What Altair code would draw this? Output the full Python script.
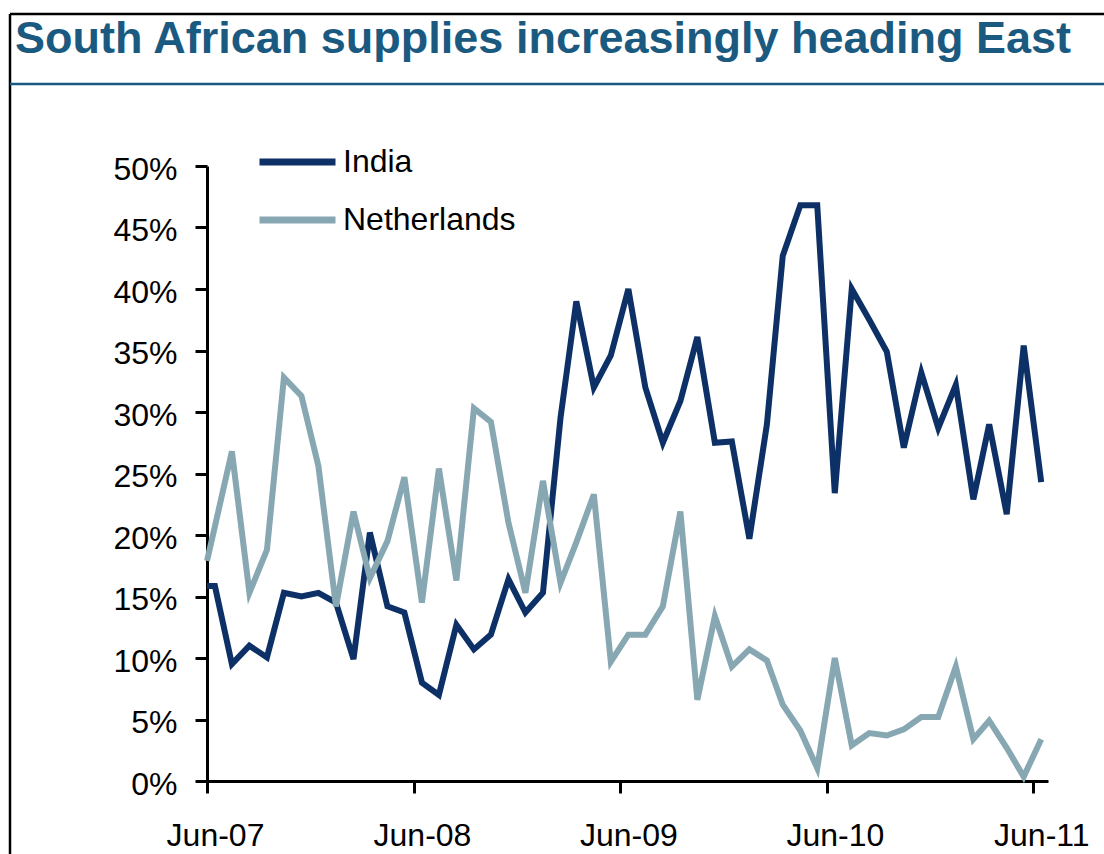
import altair as alt
import pandas as pd

# ---- data ----
series_names = ["India", "Netherlands"]
start_date = "2007-06-01T00:00:00"
start_india = 15.85
start_netherlands = 17.9

# monthly values (mid-month), Jun-07 .. Jun-11, in percent
india = [15.85, 9.5, 11.0, 10.05, 15.3, 15.0, 15.3, 14.5, 9.9, 20.2, 14.2, 13.7,
         8.0, 7.0, 12.7, 10.7, 11.9, 16.4, 13.7, 15.3, 29.5, 39.0, 32.0, 34.6,
         40.0, 32.0, 27.5, 30.9, 36.1, 27.5, 27.6, 19.7, 29.0, 42.7, 46.8, 46.8,
         23.4, 40.0, 37.5, 34.9, 27.1, 33.2, 28.7, 32.2, 22.9, 29.0, 21.7, 35.4,
         24.3]
netherlands = [20.7, 26.8, 15.3, 18.8, 32.8, 31.3, 25.6, 14.2, 21.9, 16.5, 19.5, 24.7,
               14.5, 25.4, 16.3, 30.3, 29.2, 21.0, 15.3, 24.4, 16.1, 19.4, 23.3, 9.7,
               11.9, 11.9, 14.2, 21.9, 6.6, 13.4, 9.3, 10.7, 9.8, 6.2, 4.1, 1.05,
               10.0, 2.9, 3.9, 3.7, 4.2, 5.2, 5.2, 9.3, 3.4, 4.9, 2.7, 0.35,
               3.4]
months = pd.date_range("2007-06-01", periods=len(india), freq="MS") + pd.Timedelta(days=14)
month_labels = [d.strftime("%Y-%m-%dT00:00:00") for d in months]

y_ticks = [0, 5, 10, 15, 20, 25, 30, 35, 40, 45, 50]
x_tick_years = [2007, 2008, 2009, 2010, 2011]

title_text = "South African supplies increasingly heading East"
colors = ["#0D3166", "#87A7B2"]
title_color = "#1B5A80"
FONT = "Liberation Sans"

rows = []
for name, first, vals in [("India", start_india, india), ("Netherlands", start_netherlands, netherlands)]:
    rows.append({"date": start_date, "series": name, "value": first})
    for d, v in zip(month_labels, vals):
        rows.append({"date": d, "series": name, "value": v})
df = pd.DataFrame(rows)

W, H = 841, 615
PAD_L, PAD_T, PAD_R, PAD_B = 207, 166, 56, 73

lines = alt.Chart(df).mark_line(strokeWidth=6, strokeJoin="miter").encode(
    x=alt.X(
        "date:T",
        scale=alt.Scale(domain=[alt.DateTime(year=2007, month=6, date=1),
                                alt.DateTime(year=2011, month=6, date=27)]),
        axis=alt.Axis(
            title=None,
            values=[alt.DateTime(year=y, month=6, date=1) for y in x_tick_years],
            format="%b-%y",
            formatType="time",
            labelFontSize=32,
            labelFont=FONT,
            labelColor="#000000",
            labelPadding=27,
            labelOffset=8,
            labelFlush=False,
            labelOverlap=False,
            tickSize=12,
            tickWidth=3,
            tickColor="#000000",
            domainColor="#000000",
            domainWidth=3,
            grid=False,
        ),
    ),
    y=alt.Y(
        "value:Q",
        scale=alt.Scale(domain=[0, 50], nice=False),
        axis=alt.Axis(
            title=None,
            values=y_ticks,
            labelExpr="datum.value + '%'",
            labelFontSize=32,
            labelFont=FONT,
            labelColor="#000000",
            labelPadding=18,
            labelOffset=3,
            tickSize=12,
            tickWidth=3,
            tickColor="#000000",
            domainColor="#000000",
            domainWidth=3,
            grid=False,
        ),
    ),
    color=alt.Color(
        "series:N",
        scale=alt.Scale(domain=series_names, range=colors),
        legend=alt.Legend(
            orient="none",
            legendX=49,
            legendY=-24,
            title=None,
            symbolType="stroke",
            symbolSize=76 * 76,
            symbolStrokeWidth=7,
            labelFontSize=32,
            labelFont=FONT,
            labelColor="#000000",
            labelOffset=4,
            labelLimit=400,
            clipHeight=40,
            rowPadding=18,
            padding=0,
        ),
    ),
)

one = pd.DataFrame({"k": [0]})
top_border = alt.Chart(one).mark_rule(color="#000000", strokeWidth=2.5).encode(
    x=alt.value(-197), x2=alt.value(1104 - PAD_L), y=alt.value(14 - PAD_T))
left_border = alt.Chart(one).mark_rule(color="#000000", strokeWidth=2.5).encode(
    x=alt.value(-197), y=alt.value(14 - PAD_T), y2=alt.value(854 - PAD_T))
underline = alt.Chart(one).mark_rule(color=title_color, strokeWidth=2.5).encode(
    x=alt.value(-197), x2=alt.value(1104 - PAD_L), y=alt.value(84 - PAD_T))

chart = alt.layer(top_border, left_border, underline, lines).properties(
    width=W,
    height=H,
    background="white",
    padding={"left": PAD_L, "top": PAD_T, "right": PAD_R, "bottom": PAD_B},
    autosize=alt.AutoSizeParams(type="none"),
    title=alt.TitleParams(
        text=title_text,
        anchor="start",
        frame="group",
        font=FONT,
        fontSize=45,
        fontWeight="bold",
        color=title_color,
        baseline="alphabetic",
        offset=0,
        dx=-192,
        dy=85,
    ),
).configure_view(stroke="#ffffff", strokeOpacity=0, strokeWidth=1)

chart.save("out.html", embed_options={"renderer": "svg", "actions": False})
